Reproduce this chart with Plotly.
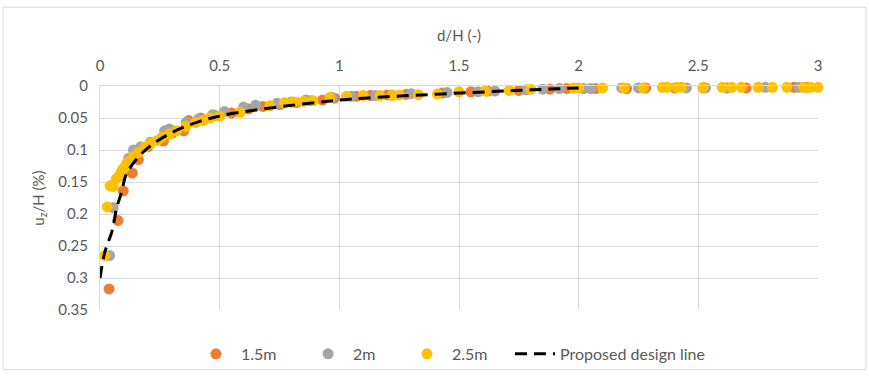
import plotly.graph_objects as go

# 1.5m series
x_15 = [0.038,0.075,0.097,0.135,0.16,0.2,0.265,0.3,0.35,0.37,0.42,0.48,0.55,0.62,0.68,0.75,0.82,0.88,0.93,0.98,1.07,1.13,1.2,1.28,1.43,1.55,1.62,1.75,1.88,1.95,2.07,2.2,2.28,2.4,2.52,2.62,2.7,2.9,2.95]
y_15 = [0.317,0.21,0.164,0.136,0.115,0.095,0.086,0.074,0.07,0.054,0.05,0.046,0.042,0.036,0.032,0.029,0.026,0.023,0.022,0.019,0.016,0.015,0.014,0.013,0.011,0.009,0.008,0.007,0.005,0.004,0.004,0.004,0.003,0.003,0.003,0.003,0.003,0.002,0.002]

# 2m series
x_2 = [0.04,0.055,0.09,0.1,0.12,0.14,0.17,0.21,0.27,0.29,0.36,0.41,0.47,0.52,0.6,0.65,0.74,0.8,0.86,0.97,1.05,1.15,1.22,1.3,1.45,1.58,1.65,1.78,1.85,1.92,2.02,2.05,2.18,2.25,2.45,2.53,2.62,2.78,2.92]
y_2 = [0.265,0.19,0.14,0.13,0.113,0.1,0.095,0.088,0.07,0.067,0.057,0.052,0.045,0.04,0.033,0.03,0.027,0.025,0.022,0.018,0.016,0.015,0.014,0.012,0.01,0.009,0.008,0.006,0.005,0.004,0.004,0.004,0.003,0.003,0.003,0.003,0.003,0.002,0.002]

# 2.5m series
x_25 = [0.02,0.03,0.042,0.055,0.068,0.08,0.09,0.1,0.11,0.12,0.14,0.16,0.19,0.21,0.24,0.26,0.29,0.32,0.36,0.4,0.43,0.46,0.5,0.585,0.71,0.77,0.81,0.85,0.89,0.96,1.03,1.1,1.17,1.22,1.25,1.33,1.41,1.5,1.61,1.71,1.8,1.98,2.0,2.1,2.19,2.27,2.35,2.37,2.41,2.43,2.52,2.6,2.64,2.68,2.75,2.81,2.87,2.94,2.97,3.0]
y_25 = [0.265,0.189,0.156,0.157,0.145,0.14,0.133,0.128,0.122,0.118,0.11,0.104,0.095,0.09,0.085,0.08,0.075,0.07,0.063,0.057,0.054,0.05,0.047,0.041,0.031,0.026,0.025,0.024,0.023,0.018,0.016,0.015,0.015,0.015,0.014,0.0135,0.0125,0.009,0.008,0.007,0.005,0.003,0.003,0.003,0.003,0.003,0.002,0.002,0.002,0.002,0.002,0.002,0.002,0.002,0.002,0.002,0.002,0.002,0.002,0.002]

# Proposed design line
x_line = [0,0.02,0.05,0.07,0.09,0.11,0.16,0.22,0.31,0.41,0.51,0.74,0.95,1.1,1.37,1.62,1.8,2.0]
y_line = [0.30,0.26,0.227,0.19,0.166,0.138,0.111,0.091,0.071,0.056,0.046,0.033,0.024,0.019,0.0135,0.009,0.006,0.003]

x_ticks = [0, 0.5, 1, 1.5, 2, 2.5, 3]
x_tick_labels = ["0", "0.5", "1", "1.5", "2", "2.5", "3"]
y_ticks = [0, 0.05, 0.1, 0.15, 0.2, 0.25, 0.3, 0.35]
y_tick_labels = ["0", "0.05", "0.1", "0.15", "0.2", "0.25", "0.3", "0.35"]

FONT = "Lato, Carlito, Calibri, sans-serif"
TXT = "#595959"
GRID = "#D9D9D9"

fig = go.Figure()
legend_ids = ["legend", "legend2", "legend3", "legend4"]
for i, (name, xs, ys, col) in enumerate([("1.5m", x_15, y_15, "#ED7D31"),
                                         ("2m", x_2, y_2, "#A5A5A5"),
                                         ("2.5m", x_25, y_25, "#FFC000")]):
    fig.add_trace(go.Scatter(x=xs, y=ys, mode="markers", name=name,
                             marker=dict(color=col, size=11, line=dict(width=0)),
                             cliponaxis=False, legend=legend_ids[i]))
fig.add_trace(go.Scatter(x=x_line, y=y_line, mode="lines", name="Proposed design line",
                         line=dict(color="black", width=3, dash="12px,7px", shape="spline"),
                         cliponaxis=False, legend=legend_ids[3]))

leg_common = dict(orientation="h", y=-0.12, yanchor="top", xanchor="left",
                  font=dict(size=16, color=TXT), itemwidth=40, bgcolor="rgba(0,0,0,0)")
fig.update_layout(
    width=869, height=383,
    margin=dict(l=100, r=51, t=86, b=64),
    paper_bgcolor="white", plot_bgcolor="white",
    font=dict(family=FONT, size=15, color=TXT),
    showlegend=True,
    legend=dict(x=0.1267, **leg_common),
    legend2=dict(x=0.2828, **leg_common),
    legend3=dict(x=0.4206, **leg_common),
    legend4=dict(x=0.571, **leg_common),
    xaxis=dict(side="top", range=[0, 3], tickvals=x_ticks, ticktext=x_tick_labels,
               showgrid=True, gridcolor=GRID, gridwidth=1, zeroline=False,
               showline=True, linecolor=GRID, linewidth=1, ticks="",
               ticklabelstandoff=8,
               title=dict(text="d/H (-)", font=dict(size=15, color=TXT), standoff=10),
               tickfont=dict(size=15, color=TXT)),
    yaxis=dict(range=[0.35, 0], tickvals=y_ticks, ticktext=y_tick_labels,
               showgrid=True, gridcolor=GRID, gridwidth=1, zeroline=False,
               showline=True, linecolor=GRID, linewidth=1, ticks="",
               ticklabelstandoff=8,
               title=dict(text="u<sub>z</sub>/H (%)", font=dict(size=15, color=TXT), standoff=10),
               tickfont=dict(size=15, color=TXT)),
    shapes=[dict(type="rect", xref="paper", yref="paper",
                 x0=-0.135, x1=1.0669, y0=-0.266, y1=1.352,
                 line=dict(color=GRID, width=1), fillcolor="rgba(0,0,0,0)", layer="below")],
)

fig.write_html("out.html")
